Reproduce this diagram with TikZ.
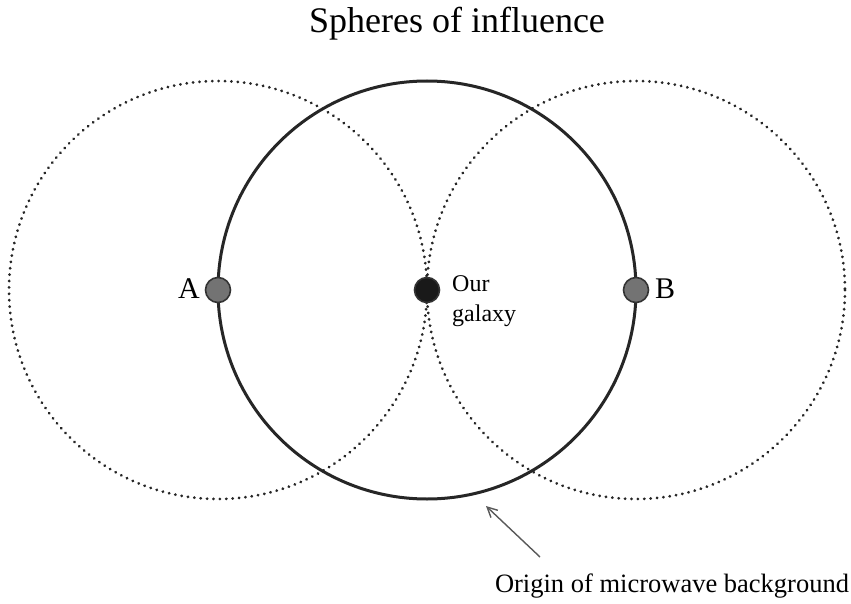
\documentclass[tikz,border=0pt]{standalone}
\usepackage{fontspec}
\setmainfont{Liberation Serif}
\usetikzlibrary{arrows.meta}
\begin{document}
\begin{tikzpicture}[x=1pt,y=-1pt,
  dotcirc/.style={line width=3pt, dash pattern=on 0.1pt off 6.3pt, line cap=round, black!85},
  maincirc/.style={line width=3pt, black!85},
  galdot/.style={circle, draw=black!80, line width=1.6pt, minimum size=25pt, inner sep=0pt},
  lbl/.style={font=\fontsize{30}{34}\selectfont, inner sep=0pt}]
\useasboundingbox (0,0) rectangle (851,604);
\coordinate (A) at (218,290);
\coordinate (G) at (427,290);
\coordinate (B) at (636,290);
\draw[dotcirc] (A) circle (209);
\draw[dotcirc] (B) circle (209);
\draw[maincirc] (G) circle (209);
\node[galdot, fill=black!55] (Ad) at (A) {};
\node[galdot, fill=black!55] (Bd) at (B) {};
\node[galdot, fill=black!90] (Gd) at (G) {};
\node[lbl, anchor=base east] (Al) at (200,298) {A};
\node[lbl, anchor=base west] (Bl) at (655,298) {B};
\node[font=\fontsize{24}{30}\selectfont, align=left, anchor=base west, inner sep=0pt] (Gl) at (452,321) {Our\\galaxy};
\node[font=\fontsize{36}{40}\selectfont, inner sep=0pt] (title) at (457,24) {Spheres of influence};
\node[font=\fontsize{26.5}{30}\selectfont, inner sep=0pt, anchor=base] (orig) at (672,592) {Origin of microwave background};
\coordinate (tail) at (540,557);
\coordinate (head) at (486,506);
\draw[black!65, line width=1.4pt, -{Straight Barb[length=10pt,width=10pt]}] (tail) -- (head);
\end{tikzpicture}
\end{document}
